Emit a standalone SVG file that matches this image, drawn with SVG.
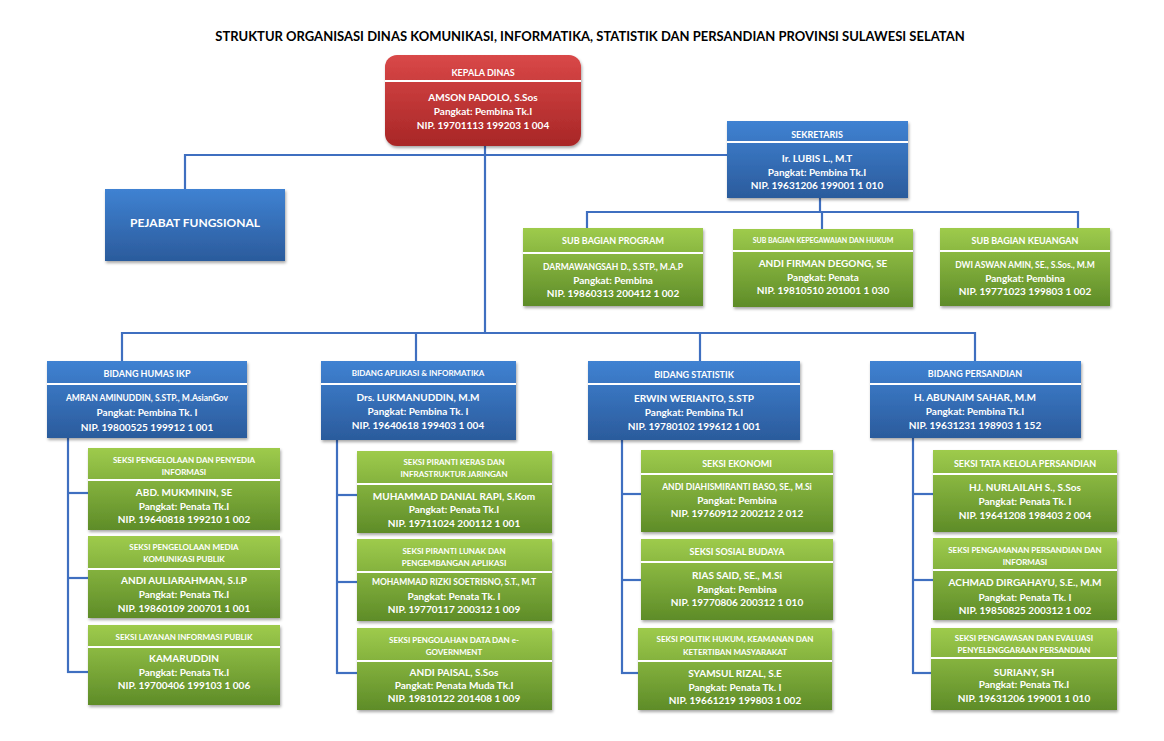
<svg xmlns="http://www.w3.org/2000/svg" width="1164" height="741" viewBox="0 0 1164 741">
<defs>
<linearGradient id="gBlue" x1="0" y1="0" x2="0" y2="1"><stop offset="0" stop-color="#3f82d2"/><stop offset="1" stop-color="#2b5b9c"/></linearGradient>
<linearGradient id="gRed" x1="0" y1="0" x2="0" y2="1"><stop offset="0" stop-color="#d94848"/><stop offset="1" stop-color="#a82626"/></linearGradient>
<linearGradient id="gGreen" x1="0" y1="0" x2="0" y2="1"><stop offset="0" stop-color="#9ecb4c"/><stop offset="1" stop-color="#5e8c28"/></linearGradient>
<filter id="sh" x="-10%" y="-10%" width="125%" height="130%"><feDropShadow dx="1" dy="2" stdDeviation="1.5" flood-color="#000" flood-opacity="0.35"/></filter>
</defs>
<style>
.blue{fill:url(#gBlue);filter:url(#sh)}
.red{fill:url(#gRed);filter:url(#sh)}
.green{fill:url(#gGreen);filter:url(#sh)}
.div{stroke:#fff;stroke-width:2}
text{font-family:Lato,"Liberation Sans",sans-serif;font-weight:bold;fill:#fff;text-anchor:middle;dominant-baseline:central}
.t{font-size:10px}
.h{font-size:9px}
.hs{font-size:8px}
.title{font-size:13px;fill:#000}
.con line{stroke:#3f6fc0;stroke-width:2.2;fill:none}
</style>
<rect width="1164" height="741" fill="#fff"/>
<text class="title" x="590" y="36">STRUKTUR ORGANISASI DINAS KOMUNIKASI, INFORMATIKA, STATISTIK DAN PERSANDIAN PROVINSI SULAWESI SELATAN</text>

<g class="con" id="connectors">
<line x1="485" y1="146" x2="485" y2="334"/>
<line x1="184" y1="155" x2="727" y2="155"/>
<line x1="185" y1="154" x2="185" y2="189"/>
<line x1="820" y1="198" x2="820" y2="212"/>
<line x1="586" y1="212" x2="1079" y2="212"/>
<line x1="587" y1="211" x2="587" y2="228"/>
<line x1="822" y1="211" x2="822" y2="229"/>
<line x1="1078" y1="211" x2="1078" y2="228"/>
<line x1="121" y1="333" x2="976" y2="333"/>
<line x1="122" y1="332" x2="122" y2="361"/>
<line x1="416" y1="332" x2="416" y2="361"/>
<line x1="700" y1="332" x2="700" y2="361"/>
<line x1="975" y1="332" x2="975" y2="361"/>
<line x1="68" y1="438" x2="68" y2="673"/>
<line x1="67" y1="493" x2="88" y2="493"/>
<line x1="67" y1="578" x2="88" y2="578"/>
<line x1="67" y1="672" x2="88" y2="672"/>
<line x1="337" y1="440" x2="337" y2="674"/>
<line x1="336" y1="495" x2="357" y2="495"/>
<line x1="336" y1="582" x2="357" y2="582"/>
<line x1="336" y1="673" x2="357" y2="673"/>
<line x1="622" y1="440" x2="622" y2="674"/>
<line x1="621" y1="494" x2="641" y2="494"/>
<line x1="621" y1="580" x2="641" y2="580"/>
<line x1="621" y1="673" x2="638" y2="673"/>
<line x1="913" y1="438" x2="913" y2="674"/>
<line x1="912" y1="494" x2="933" y2="494"/>
<line x1="912" y1="580" x2="933" y2="580"/>
<line x1="912" y1="673" x2="931" y2="673"/>
</g>

<g id="kepala-dinas">
<rect class="red" x="385" y="55" width="196" height="91" rx="12"/>
<line class="div" x1="385" y1="81" x2="581" y2="81"/>
<text class="h" x="483" y="72">KEPALA DINAS</text>
<text class="t" x="483" y="97">AMSON PADOLO, S.Sos</text>
<text class="t" x="483" y="111">Pangkat: Pembina Tk.I</text>
<text class="t" x="483" y="125">NIP. 19701113 199203 1 004</text>
</g>

<g id="sekretaris">
<rect class="blue" x="727" y="121" width="181" height="77"/>
<line class="div" x1="727" y1="142" x2="908" y2="142"/>
<text class="h" x="817" y="134">SEKRETARIS</text>
<text class="t" x="817" y="158">Ir. LUBIS L., M.T</text>
<text class="t" x="817" y="172">Pangkat: Pembina Tk.I</text>
<text class="t" x="817" y="185">NIP. 19631206 199001 1 010</text>
</g>

<g id="pejabat-fungsional">
<rect class="blue" x="105" y="189" width="180" height="72"/>
<text x="195" y="222" style="font-size:12px">PEJABAT FUNGSIONAL</text>
</g>

<g id="sub-bagian-program">
<rect class="green" x="523" y="228" width="180" height="78"/>
<line class="div" x1="523" y1="253" x2="703" y2="253"/>
<text class="h" x="613" y="240">SUB BAGIAN PROGRAM</text>
<text class="hs" x="613" y="267" style="font-size:8.5px">DARMAWANGSAH D., S.STP., M.A.P</text>
<text class="t" x="613" y="280">Pangkat: Pembina</text>
<text class="t" x="613" y="293">NIP. 19860313 200412 1 002</text>
</g>

<g id="sub-bagian-kepegawaian">
<rect class="green" x="733" y="229" width="180" height="78"/>
<line class="div" x1="733" y1="251" x2="913" y2="251"/>
<text class="hs" x="823" y="240" style="font-size:7px">SUB BAGIAN KEPEGAWAIAN DAN HUKUM</text>
<text class="t" x="823" y="263">ANDI FIRMAN DEGONG, SE</text>
<text class="t" x="823" y="277">Pangkat: Penata</text>
<text class="t" x="823" y="290">NIP. 19810510 201001 1 030</text>
</g>

<g id="sub-bagian-keuangan">
<rect class="green" x="940" y="228" width="170" height="78"/>
<line class="div" x1="940" y1="251" x2="1110" y2="251"/>
<text class="h" x="1025" y="240">SUB BAGIAN KEUANGAN</text>
<text class="hs" x="1025" y="265" style="font-size:8.5px">DWI ASWAN AMIN, SE., S.Sos., M.M</text>
<text class="t" x="1025" y="278">Pangkat: Pembina</text>
<text class="t" x="1025" y="291">NIP. 19771023 199803 1 002</text>
</g>

<g id="bidang-humas">
<rect class="blue" x="47" y="361" width="200" height="77"/>
<line class="div" x1="47" y1="384" x2="247" y2="384"/>
<text class="h" x="147" y="373">BIDANG HUMAS IKP</text>
<text class="hs" x="147" y="398" style="font-size:8.5px">AMRAN AMINUDDIN, S.STP., M.AsianGov</text>
<text class="t" x="147" y="412">Pangkat: Pembina Tk. I</text>
<text class="t" x="147" y="427">NIP. 19800525 199912 1 001</text>
</g>

<g id="bidang-aplikasi">
<rect class="blue" x="321" y="361" width="195" height="79"/>
<line class="div" x1="321" y1="384" x2="516" y2="384"/>
<text class="hs" x="418" y="373">BIDANG APLIKASI &amp; INFORMATIKA</text>
<text class="t" x="418" y="397">Drs. LUKMANUDDIN, M.M</text>
<text class="t" x="418" y="411">Pangkat: Pembina Tk. I</text>
<text class="t" x="418" y="425">NIP. 19640618 199403 1 004</text>
</g>

<g id="bidang-statistik">
<rect class="blue" x="588" y="361" width="212" height="79"/>
<line class="div" x1="588" y1="384" x2="800" y2="384"/>
<text class="h" x="694" y="374">BIDANG STATISTIK</text>
<text class="t" x="694" y="398">ERWIN WERIANTO, S.STP</text>
<text class="t" x="694" y="412">Pangkat: Pembina Tk.I</text>
<text class="t" x="694" y="426">NIP. 19780102 199612 1 001</text>
</g>

<g id="bidang-persandian">
<rect class="blue" x="870" y="361" width="211" height="77"/>
<line class="div" x1="870" y1="384" x2="1081" y2="384"/>
<text class="h" x="975" y="373">BIDANG PERSANDIAN</text>
<text class="t" x="975" y="397">H. ABUNAIM SAHAR, M.M</text>
<text class="t" x="975" y="411">Pangkat: Pembina Tk.I</text>
<text class="t" x="975" y="425">NIP. 19631231 198903 1 152</text>
</g>

<g id="seksi-pengelolaan-penyedia-informasi">
<rect class="green" x="88" y="448" width="192" height="82"/>
<line class="div" x1="88" y1="480" x2="280" y2="480"/>
<text class="hs" x="184" y="460">SEKSI PENGELOLAAN DAN PENYEDIA</text>
<text class="hs" x="184" y="472">INFORMASI</text>
<text class="t" x="184" y="492">ABD. MUKMININ, SE</text>
<text class="t" x="184" y="506">Pangkat: Penata Tk.I</text>
<text class="t" x="184" y="519">NIP. 19640818 199210 1 002</text>
</g>

<g id="seksi-pengelolaan-media">
<rect class="green" x="88" y="536" width="192" height="82"/>
<line class="div" x1="88" y1="569" x2="280" y2="569"/>
<text class="hs" x="184" y="547">SEKSI PENGELOLAAN MEDIA</text>
<text class="hs" x="184" y="559">KOMUNIKASI PUBLIK</text>
<text class="t" x="184" y="580">ANDI AULIARAHMAN, S.I.P</text>
<text class="t" x="184" y="594">Pangkat: Penata Tk.I</text>
<text class="t" x="184" y="608">NIP. 19860109 200701 1 001</text>
</g>

<g id="seksi-layanan-informasi">
<rect class="green" x="88" y="625" width="192" height="80"/>
<line class="div" x1="88" y1="647" x2="280" y2="647"/>
<text class="hs" x="184" y="637">SEKSI LAYANAN INFORMASI PUBLIK</text>
<text class="t" x="184" y="658">KAMARUDDIN</text>
<text class="t" x="184" y="672">Pangkat: Penata Tk.I</text>
<text class="t" x="184" y="685">NIP. 19700406 199103 1 006</text>
</g>

<g id="seksi-piranti-keras">
<rect class="green" x="357" y="451" width="195" height="82"/>
<line class="div" x1="357" y1="484" x2="552" y2="484"/>
<text class="hs" x="454" y="462">SEKSI PIRANTI KERAS DAN</text>
<text class="hs" x="454" y="474">INFRASTRUKTUR JARINGAN</text>
<text class="t" x="454" y="496">MUHAMMAD DANIAL RAPI, S.Kom</text>
<text class="t" x="454" y="509">Pangkat: Penata Tk.I</text>
<text class="t" x="454" y="523">NIP. 19711024 200112 1 001</text>
</g>

<g id="seksi-piranti-lunak">
<rect class="green" x="357" y="539" width="195" height="82"/>
<line class="div" x1="357" y1="572" x2="552" y2="572"/>
<text class="hs" x="454" y="551">SEKSI PIRANTI LUNAK DAN</text>
<text class="hs" x="454" y="563">PENGEMBANGAN APLIKASI</text>
<text class="hs" x="454" y="582" style="font-size:8.5px">MOHAMMAD RIZKI SOETRISNO, S.T., M.T</text>
<text class="t" x="454" y="596">Pangkat: Penata Tk. I</text>
<text class="t" x="454" y="609">NIP. 19770117 200312 1 009</text>
</g>

<g id="seksi-pengolahan-data">
<rect class="green" x="357" y="628" width="195" height="82"/>
<line class="div" x1="357" y1="661" x2="552" y2="661"/>
<text class="hs" x="454" y="640">SEKSI PENGOLAHAN DATA DAN e-</text>
<text class="hs" x="454" y="652">GOVERNMENT</text>
<text class="t" x="454" y="672">ANDI PAISAL, S.Sos</text>
<text class="t" x="454" y="685">Pangkat: Penata Muda Tk.I</text>
<text class="t" x="454" y="698">NIP. 19810122 201408 1 009</text>
</g>

<g id="seksi-ekonomi">
<rect class="green" x="641" y="450" width="192" height="82"/>
<line class="div" x1="641" y1="474" x2="833" y2="474"/>
<text class="h" x="737" y="463">SEKSI EKONOMI</text>
<text class="hs" x="737" y="487" style="font-size:8.5px">ANDI DIAHISMIRANTI BASO, SE., M.Si</text>
<text class="t" x="737" y="500">Pangkat: Pembina</text>
<text class="t" x="737" y="513">NIP. 19760912 200212 2 012</text>
</g>

<g id="seksi-sosial-budaya">
<rect class="green" x="641" y="539" width="192" height="81"/>
<line class="div" x1="641" y1="562" x2="833" y2="562"/>
<text class="h" x="737" y="551">SEKSI SOSIAL BUDAYA</text>
<text class="t" x="737" y="575">RIAS SAID, SE., M.Si</text>
<text class="t" x="737" y="589">Pangkat: Pembina</text>
<text class="t" x="737" y="602">NIP. 19770806 200312 1 010</text>
</g>

<g id="seksi-politik-hukum">
<rect class="green" x="638" y="628" width="194" height="82"/>
<line class="div" x1="638" y1="661" x2="832" y2="661"/>
<text class="hs" x="735" y="639">SEKSI POLITIK HUKUM, KEAMANAN DAN</text>
<text class="hs" x="735" y="652">KETERTIBAN MASYARAKAT</text>
<text class="t" x="735" y="673">SYAMSUL RIZAL, S.E</text>
<text class="t" x="735" y="687">Pangkat: Penata Tk. I</text>
<text class="t" x="735" y="700">NIP. 19661219 199803 1 002</text>
</g>

<g id="seksi-tata-kelola">
<rect class="green" x="933" y="450" width="184" height="82"/>
<line class="div" x1="933" y1="474" x2="1117" y2="474"/>
<text class="h" x="1025" y="463">SEKSI TATA KELOLA PERSANDIAN</text>
<text class="t" x="1025" y="487">HJ. NURLAILAH S., S.Sos</text>
<text class="t" x="1025" y="501">Pangkat: Penata Tk. I</text>
<text class="t" x="1025" y="515">NIP. 19641208 198403 2 004</text>
</g>

<g id="seksi-pengamanan">
<rect class="green" x="933" y="538" width="184" height="82"/>
<line class="div" x1="933" y1="570" x2="1117" y2="570"/>
<text class="hs" x="1025" y="550">SEKSI PENGAMANAN PERSANDIAN DAN</text>
<text class="hs" x="1025" y="562">INFORMASI</text>
<text class="t" x="1025" y="582">ACHMAD DIRGAHAYU, S.E., M.M</text>
<text class="t" x="1025" y="597">Pangkat: Penata Tk. I</text>
<text class="t" x="1025" y="610">NIP. 19850825 200312 1 002</text>
</g>

<g id="seksi-pengawasan">
<rect class="green" x="931" y="628" width="186" height="82"/>
<line class="div" x1="931" y1="658" x2="1117" y2="658"/>
<text class="hs" x="1024" y="638">SEKSI PENGAWASAN DAN EVALUASI</text>
<text class="hs" x="1024" y="650">PENYELENGGARAAN PERSANDIAN</text>
<text class="t" x="1024" y="672">SURIANY, SH</text>
<text class="t" x="1024" y="684">Pangkat: Penata Tk.I</text>
<text class="t" x="1024" y="698">NIP. 19631206 199001 1 010</text>
</g>
</svg>
